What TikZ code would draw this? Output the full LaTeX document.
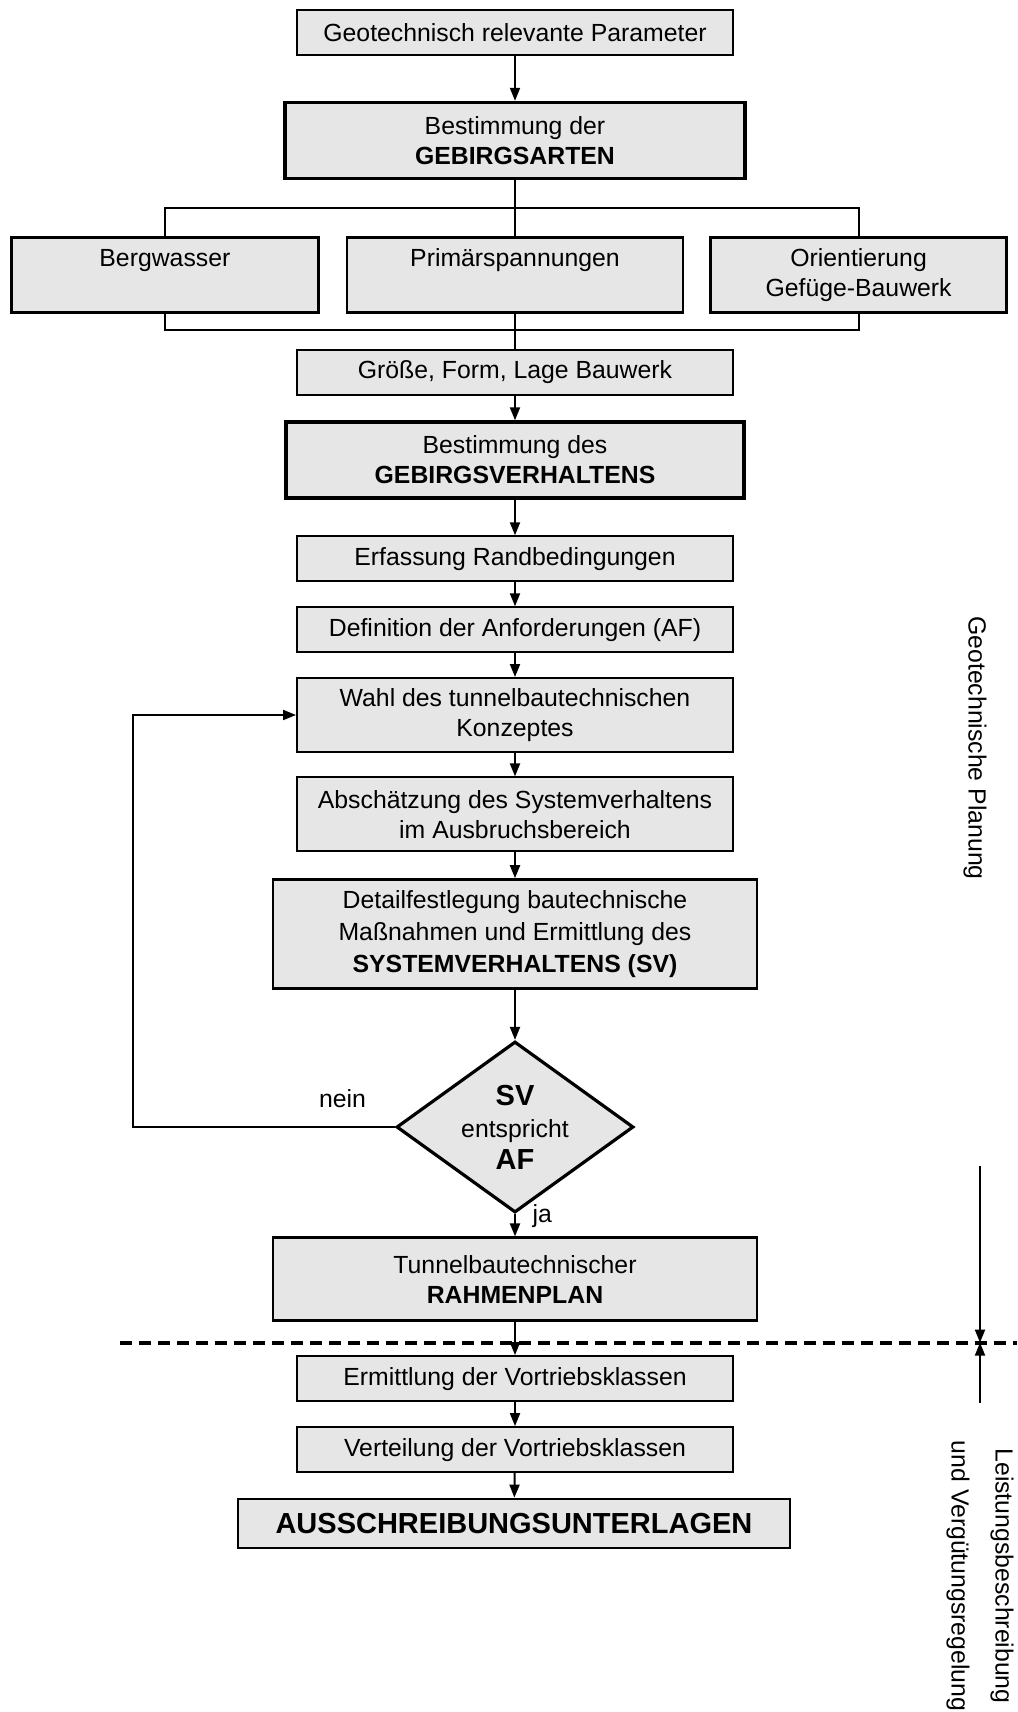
\documentclass[tikz,border=0pt]{standalone}
\usepackage{fontspec}
\setmainfont{Liberation Sans}
\usetikzlibrary{shapes.geometric, arrows.meta, positioning, calc}
\definecolor{boxgray}{HTML}{E6E6E6}
\tikzset{
  stepbox/.style={rectangle, draw=black, line width=1pt, fill=boxgray, align=center, minimum width=218pt, minimum height=22.5pt, inner sep=2pt, font=\fontsize{12.4}{15}\selectfont},
  keybox/.style={stepbox, line width=1.6pt, minimum height=38pt},
  sidebox/.style={stepbox, line width=1.3pt, minimum height=37.5pt},
  widebox/.style={stepbox, line width=1.3pt, minimum width=242pt},
  checkbox/.style={diamond, aspect=1.38, draw=black, line width=1.6pt, fill=boxgray, align=center, inner sep=0pt, minimum width=118.5pt, minimum height=85.5pt, font=\fontsize{12.4}{16}\selectfont},
  arrowline/.style={-{Triangle[length=6.5pt, width=5pt]}, line width=1pt},
  plainline/.style={line width=1pt},
  sidelabel/.style={rotate=-90, align=center, font=\fontsize{12.4}{22}\selectfont},
}
\begin{document}
\begin{tikzpicture}[x=0.5pt, y=-0.5pt, font=\fontsize{12.4}{15}\selectfont]
\useasboundingbox[fill=white] (0,0) rectangle (1017,1712);
\node[stepbox] (param) at (515,32.75) {Geotechnisch relevante Parameter};
\node[keybox, minimum width=230pt] (arten) at (515,140.4) {Bestimmung der\\\textbf{GEBIRGSARTEN}};
\node[sidebox, minimum width=168pt] (primaer) at (515,275.2) {Primärspannungen\\\vphantom{Gg}};
\node[sidebox, minimum width=153.5pt, left=13pt of primaer] (wasser) {Bergwasser\\\vphantom{Gg}};
\node[sidebox, minimum width=148pt, right=12.5pt of primaer] (orient) {Orientierung\\Gefüge-Bauwerk};
\node[stepbox] (groesse) at (515,372) {Größe, Form, Lage Bauwerk};
\node[keybox, minimum width=229pt] (verhalten) at (515,459.9) {Bestimmung des\\\textbf{GEBIRGSVERHALTENS}};
\node[stepbox] (rand) at (515,558.8) {Erfassung Randbedingungen};
\node[stepbox] (anford) at (515,629.8) {Definition der Anforderungen (AF)};
\node[stepbox, minimum height=37pt] (konzept) at (515,715) {Wahl des tunnelbautechnischen\\Konzeptes};
\node[stepbox, minimum height=37pt] (abschaetz) at (515,814.4) {Abschätzung des Systemverhaltens\\im Ausbruchsbereich};
\node[widebox, minimum height=54.5pt, font=\fontsize{12.4}{16}\selectfont] (detail) at (515,934) {Detailfestlegung bautechnische\\Maßnahmen und Ermittlung des\\\textbf{SYSTEMVERHALTENS (SV)}};
\node[checkbox] (sv) at (515,1127) {{\bfseries\fontsize{14.5}{16}\selectfont SV}\\entspricht\\{\bfseries\fontsize{14.5}{16}\selectfont AF}};
\node[widebox, minimum height=41.5pt] (rahmen) at (515,1279.2) {Tunnelbautechnischer\\\textbf{RAHMENPLAN}};
\node[stepbox] (ermittl) at (515,1378.6) {Ermittlung der Vortriebsklassen};
\node[stepbox] (verteil) at (515,1449.6) {Verteilung der Vortriebsklassen};
\node[widebox, minimum width=276pt, minimum height=24.5pt, font=\bfseries\fontsize{14.5}{17}\selectfont] (unterlagen) at (514,1523.4) {AUSSCHREIBUNGSUNTERLAGEN};
\node[sidelabel] (geoplan) at (975,748) {Geotechnische Planung};
\node[sidelabel] (lvplan) at (980,1576) {Leistungsbeschreibung\\und Vergütungsregelung};

\coordinate (split) at ($(arten.south)!0.5!(primaer.north)$);
\coordinate (merge) at ($(primaer.south)!0.45!(groesse.north)$);
\coordinate (loopx) at (133,1127);
\coordinate (dashL) at (120,1342.6);
\coordinate (dashR) at (1017,1342.6);
\coordinate (phaseTop) at (980,1165.6);
\coordinate (phaseMid) at (980,1342.6);
\coordinate (phaseBot) at (980,1402.6);

\draw[arrowline] (param) -- (arten);
\draw[plainline] (arten) -- (primaer);
\draw[plainline] (wasser.north) |- (split) -| (orient.north);
\draw[plainline] (wasser.south) |- (merge) -| (orient.south);
\draw[plainline] (primaer) -- (groesse);
\draw[arrowline] (groesse) -- (verhalten);
\draw[arrowline] (verhalten) -- (rand);
\draw[arrowline] (rand) -- (anford);
\draw[arrowline] (anford) -- (konzept);
\draw[arrowline] (konzept) -- (abschaetz);
\draw[arrowline] (abschaetz) -- (detail);
\draw[arrowline] (detail) -- (sv);
\draw[arrowline] (sv.west) -- node[pos=0.2, above=6pt] {nein} (sv.west -| loopx) |- (konzept.west);
\draw[arrowline] (sv) -- node[pos=0.1, right=5pt] {ja} (rahmen);
\draw[arrowline] (rahmen) -- (ermittl);
\draw[arrowline] (ermittl) -- (verteil);
\draw[arrowline] (verteil) -- (unterlagen);
\draw[line width=2pt, dash pattern=on 6pt off 3.5pt] (dashL) -- (dashR);
\draw[arrowline] (phaseTop) -- (phaseMid);
\draw[arrowline] (phaseBot) -- (phaseMid);
\end{tikzpicture}
\end{document}
